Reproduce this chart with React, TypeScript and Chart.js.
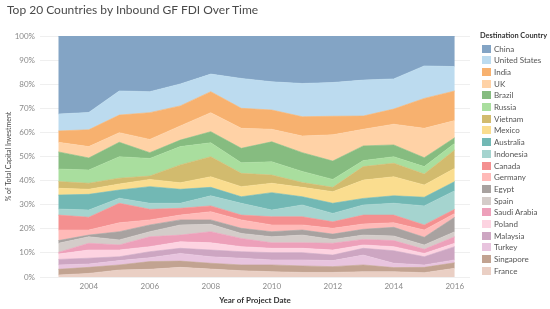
import React, { useEffect, useRef } from "react";
import { Chart, registerables } from "chart.js";

Chart.register(...registerables);

const chartTitle = "Top 20 Countries by Inbound GF FDI Over Time";
const legendTitle = "Destination Country";
const xAxisTitle = "Year of Project Date";
const yAxisTitle = "% of Total Capital Investment";

const years = [2003, 2004, 2005, 2006, 2007, 2008, 2009, 2010, 2011, 2012, 2013, 2014, 2015, 2016];
const xTickYears = [2004, 2006, 2008, 2010, 2012, 2014, 2016];

const countries = [
  "China", "United States", "India", "UK", "Brazil", "Russia", "Vietnam", "Mexico",
  "Australia", "Indonesia", "Canada", "Germany", "Egypt", "Spain", "Saudi Arabia",
  "Poland", "Malaysia", "Turkey", "Singapore", "France",
];

const colors = [
  "#83A4C5", "#BCDBEF", "#F7B16F", "#FFD2A6", "#86BC80", "#A9DE9E", "#D2BB6E", "#FADD8F",
  "#72B8B4", "#A5D4CF", "#F49090", "#FFBAB8", "#A8A2A0", "#D4CCC9", "#EDA0BA", "#FDD3E1",
  "#CDA6C2", "#E8C4DE", "#C2A391", "#EACFC4",
];

// share of total capital investment (%) per year, 2003..2016
const china = [32.4, 31.7, 22.8, 23.1, 19.9, 15.8, 17.6, 19.0, 19.7, 19.3, 18.3, 17.8, 12.4, 12.7];
const unitedStates = [7.0, 7.2, 10.0, 8.7, 9.1, 7.3, 12.4, 11.7, 13.8, 14.0, 14.9, 12.5, 13.5, 10.1];
const india = [4.7, 7.0, 7.3, 11.1, 8.3, 8.7, 8.3, 8.0, 8.0, 7.7, 5.5, 6.3, 12.4, 12.3];
const uk = [4.0, 4.7, 4.0, 5.5, 5.9, 7.9, 8.3, 5.2, 6.9, 10.9, 6.9, 8.6, 12.2, 7.1];
const brazil = [7.1, 5.0, 6.0, 2.4, 2.7, 4.6, 6.0, 8.3, 7.8, 7.6, 6.1, 4.9, 3.7, 2.3];
const russia = [5.2, 5.5, 8.9, 7.3, 7.6, 5.8, 4.4, 5.5, 4.6, 3.3, 2.5, 2.7, 3.1, 2.8];
const vietnam = [2.8, 2.5, 2.4, 1.4, 7.4, 8.3, 5.5, 3.4, 2.0, 1.8, 5.6, 5.6, 4.5, 7.6];
const mexico = [2.8, 2.1, 2.5, 3.0, 2.7, 4.4, 4.2, 3.9, 3.9, 4.8, 7.6, 7.9, 5.1, 5.5];
const australia = [5.8, 6.5, 3.4, 6.9, 5.8, 3.5, 2.7, 7.2, 3.4, 4.2, 2.7, 3.1, 3.6, 3.8];
const indonesia = [2.5, 3.0, 2.1, 2.5, 2.1, 4.2, 4.9, 2.8, 4.9, 3.5, 4.2, 4.9, 7.9, 7.7];
const canada = [6.2, 5.3, 8.1, 4.4, 2.8, 2.4, 2.0, 3.4, 3.4, 2.7, 3.7, 3.2, 2.1, 1.7];
const germany = [4.4, 2.1, 3.7, 2.1, 2.0, 3.4, 3.5, 2.8, 2.1, 2.4, 2.2, 1.9, 3.0, 1.6];
const egypt = [1.1, 0.7, 3.4, 2.8, 2.1, 1.8, 2.1, 2.1, 2.1, 2.2, 2.4, 3.6, 3.2, 6.0];
const spain = [3.8, 2.7, 2.1, 2.1, 4.2, 3.1, 2.1, 2.5, 3.2, 1.6, 1.8, 1.9, 1.8, 2.1];
const saudiArabia = [0.7, 2.8, 2.1, 4.1, 2.8, 4.6, 3.4, 2.3, 2.3, 2.8, 2.3, 2.5, 1.7, 2.7];
const poland = [2.2, 3.4, 2.8, 2.1, 2.7, 3.0, 2.1, 1.8, 1.8, 2.1, 1.4, 1.7, 1.4, 1.4];
const malaysia = [2.3, 2.4, 1.6, 2.5, 2.1, 2.8, 2.7, 3.0, 3.0, 2.3, 2.8, 5.2, 3.4, 5.5];
const turkey = [1.8, 1.4, 1.8, 1.6, 3.2, 2.7, 2.8, 2.1, 2.5, 2.5, 4.1, 1.8, 1.0, 1.2];
const singapore = [2.4, 2.5, 2.1, 3.2, 2.6, 2.4, 2.4, 2.8, 2.7, 2.4, 2.8, 1.7, 2.2, 2.3];
const france = [0.8, 1.5, 2.9, 3.2, 4.0, 3.3, 2.6, 2.2, 1.9, 1.9, 2.2, 2.2, 1.8, 3.6];

const seriesValues = [
  china, unitedStates, india, uk, brazil, russia, vietnam, mexico, australia, indonesia,
  canada, germany, egypt, spain, saudiArabia, poland, malaysia, turkey, singapore, france,
];

const FONT = "Lato, 'Open Sans', Arial, sans-serif";

export default function App() {
  const canvasRef = useRef<HTMLCanvasElement | null>(null);

  useEffect(() => {
    const canvas = canvasRef.current;
    if (!canvas) return;
    const order = countries.map((_, i) => i).reverse(); // France at bottom of stack
    const datasets = order.map((idx, k) => ({
      label: countries[idx],
      data: years.map((yr, j) => ({ x: yr, y: seriesValues[idx][j] })),
      backgroundColor: colors[idx],
      borderColor: colors[idx],
      borderWidth: 0.6,
      pointRadius: 0,
      pointHoverRadius: 0,
      tension: 0,
      fill: k === 0 ? "origin" : "-1",
    }));
    const chart = new Chart(canvas, {
      type: "line",
      data: { datasets },
      options: {
        animation: false,
        responsive: false,
        maintainAspectRatio: false,
        layout: { padding: { left: 0, top: 36, right: 80, bottom: 0 } },
        plugins: { legend: { display: false }, tooltip: { enabled: false }, title: { display: false } },
        scales: {
          x: {
            type: "linear",
            min: 2002.4,
            max: 2016.5,
            afterFit: (s: any) => { s.height = 32; },
            afterBuildTicks: (s: any) => { s.ticks = xTickYears.map((v) => ({ value: v })); },
            grid: { display: false, drawTicks: false },
            border: { display: false },
            ticks: {
              padding: 5,
              color: "#8a8a8a",
              font: { family: FONT, size: 8 },
              callback: (v: any) => String(v),
              maxRotation: 0,
              autoSkip: false,
            },
            title: {
              display: true,
              text: xAxisTitle,
              color: "#333",
              font: { family: FONT, size: 8, weight: "bold" },
              padding: { top: 0, bottom: 4 },
            },
          },
          y: {
            stacked: true,
            min: 0,
            max: 100,
            afterFit: (s: any) => { s.width = 40; },
            grid: { color: "#efefef", lineWidth: 1, drawTicks: false },
            border: { display: false },
            ticks: {
              stepSize: 10,
              padding: 5,
              color: "#8a8a8a",
              font: { family: FONT, size: 8 },
              callback: (v: any) => v + "%",
            },
            title: {
              display: true,
              text: yAxisTitle,
              color: "#444",
              font: { family: FONT, size: 7 },
              padding: { top: 5, bottom: 0 },
            },
          },
        },
      },
    });
    return () => chart.destroy();
  }, []);

  return (
    <div style={{ position: "fixed", left: 0, top: 0, width: 550, height: 309, background: "#fff", fontFamily: FONT }}>
      <canvas ref={canvasRef} width={550} height={309} style={{ position: "absolute", left: 0, top: 0 }} />
      <div style={{ position: "absolute", left: 7, top: 2, fontSize: 12, color: "#4a4a4a", whiteSpace: "nowrap", lineHeight: "16px" }}>
        {chartTitle}
      </div>
      <div style={{ position: "absolute", left: 480, top: 31, fontSize: 7.4, fontWeight: "bold", color: "#333", whiteSpace: "nowrap", lineHeight: "10px" }}>
        {legendTitle}
      </div>
      {countries.map((name, i) => (
        <div key={name} style={{ position: "absolute", left: 482, top: 43.5 + i * 11.7, height: 10, display: "flex", alignItems: "center", whiteSpace: "nowrap" }}>
          <div style={{ width: 9, height: 8, background: colors[i] }} />
          <div style={{ marginLeft: 3, fontSize: 8, color: "#555", lineHeight: "10px" }}>{name}</div>
        </div>
      ))}
    </div>
  );
}
